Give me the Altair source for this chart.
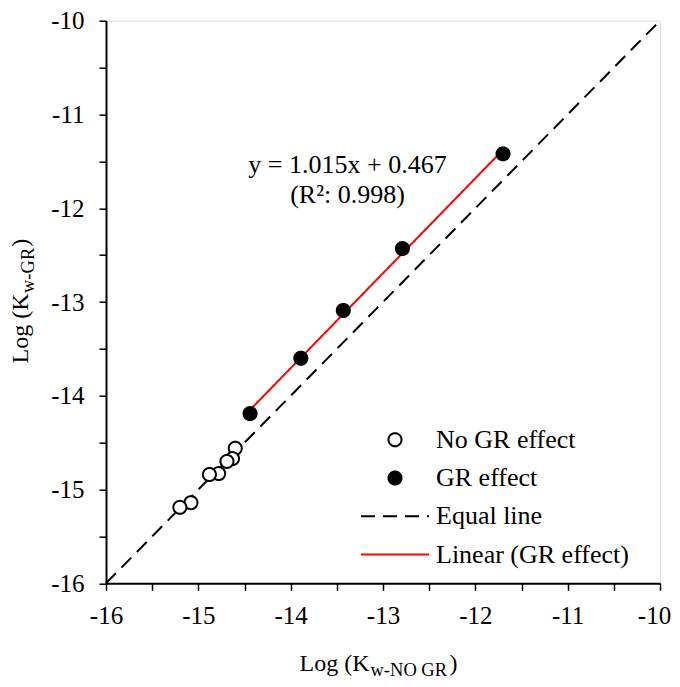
import altair as alt
import pandas as pd

# ---- data ----
x_domain = [-16, -10]
y_domain = [-16, -10]
tick_values = [-16, -15.5, -15, -14.5, -14, -13.5, -13, -12.5, -12, -11.5, -11, -10.5, -10]

no_gr_x = [-14.60, -14.63, -14.69, -14.78, -14.88, -15.08, -15.20]
no_gr_y = [-14.56, -14.67, -14.70, -14.83, -14.84, -15.14, -15.19]

gr_x = [-14.44, -13.89, -13.43, -12.79, -11.70]
gr_y = [-14.19, -13.60, -13.09, -12.43, -11.42]

series_names = ["No GR effect", "GR effect", "Equal line", "Linear (GR effect)"]

equation_lines = ["y = 1.015x + 0.467", "(R\u00b2: 0.998)"]
x_title_parts = ["Log (K", "w-NO GR", ")"]
y_title_parts = ["Log (K", "w-GR", ")"]

FONT = "Liberation Serif"

# ---- tables ----
pts_df = pd.DataFrame({
    "x": no_gr_x + gr_x,
    "y": no_gr_y + gr_y,
    "series": [series_names[0]] * len(no_gr_x) + [series_names[1]] * len(gr_x),
})
gr_df = pd.DataFrame({"x": gr_x, "y": gr_y})
equal_df = pd.DataFrame({"x": x_domain, "y": y_domain, "series": [series_names[2]] * 2})

# ---- scales / axes / legend ----
xs = alt.Scale(domain=x_domain, nice=False, zero=False)
ys = alt.Scale(domain=y_domain, nice=False, zero=False)

label_expr = "datum.value % 1 == 0 ? '' + datum.value : ''"
common_axis = dict(
    values=tick_values, labelExpr=label_expr, title=None, grid=False,
    domainColor="black", domainWidth=2, tickColor="black", tickWidth=1.5, tickSize=7,
    labelFont=FONT, labelFontSize=25, labelColor="black", labelFlush=False,
    labelOverlap=False,
)
xaxis = alt.Axis(
    labelBaseline="alphabetic", labelPadding=33,
    labelOffset={"condition": {"test": "datum.value == -10", "value": -6}, "value": 0},
    **common_axis,
)
yaxis = alt.Axis(labelBaseline="middle", labelPadding=15, **common_axis)

legend = alt.Legend(
    title=None, orient="none", legendX=254, legendY=409, padding=0,
    labelFont=FONT, labelFontSize=26, labelColor="black", labelOffset=6,
    labelLimit=400, symbolStrokeWidth=2, symbolOpacity=1, clipHeight=20,
    rowPadding=12.3,
)

shape_scale = alt.Scale(domain=series_names, range=["circle", "circle", "stroke", "stroke"])
fill_scale = alt.Scale(domain=series_names, range=["white", "black", "transparent", "transparent"])
stroke_scale = alt.Scale(domain=series_names, range=["black", "black", "black", "#ff0000"])
dash_scale = alt.Scale(domain=series_names, range=[[1, 0], [1, 0], [14, 8], [1, 0]])
size_scale = alt.Scale(type="ordinal", domain=series_names, range=[170, 170, 4624, 4624])

X = alt.X("x:Q", scale=xs, axis=xaxis)
Y = alt.Y("y:Q", scale=ys, axis=yaxis)

equal_line = alt.Chart(equal_df).mark_line(strokeWidth=2).encode(
    x=X, y=Y,
    stroke=alt.Stroke("series:N", scale=stroke_scale, legend=legend),
    strokeDash=alt.StrokeDash("series:N", scale=dash_scale, legend=legend),
)

fit_line = alt.Chart(gr_df).transform_regression("x", "y").transform_calculate(
    series="'" + series_names[3] + "'"
).mark_line(strokeWidth=2).encode(
    x=X, y=Y,
    stroke=alt.Stroke("series:N", scale=stroke_scale, legend=legend),
    strokeDash=alt.StrokeDash("series:N", scale=dash_scale, legend=legend),
)

points = alt.Chart(pts_df).mark_point(filled=True, opacity=1, strokeWidth=2).encode(
    x=X, y=Y,
    shape=alt.Shape("series:N", scale=shape_scale, legend=legend),
    fill=alt.Fill("series:N", scale=fill_scale, legend=legend),
    stroke=alt.Stroke("series:N", scale=stroke_scale, legend=legend),
    size=alt.Size("series:N", scale=size_scale, legend=legend),
    strokeDash=alt.StrokeDash("series:N", scale=dash_scale, legend=legend),
)

def text_layer(txt, x, y, size, align="center", angle=0):
    kw = dict(font=FONT, fontSize=size, color="black", align=align, baseline="alphabetic")
    if angle:
        kw["angle"] = angle
    return alt.Chart(pd.DataFrame({"t": [txt]})).mark_text(**kw).encode(
        x=alt.value(x), y=alt.value(y), text="t:N"
    )

eq1 = text_layer(equation_lines[0], 241.5, 152.6, 26)
eq2 = text_layer(equation_lines[1], 241.5, 182.6, 26)

xt1 = text_layer(x_title_parts[0], 263.5, 649.8, 24, align="right")
xt2 = text_layer(x_title_parts[1], 264.5, 655.2, 18.5, align="left")
xt3 = text_layer(x_title_parts[2], 343.5, 649.8, 24, align="left")

yt1 = text_layer(y_title_parts[0], -78, 272.8, 24, align="right", angle=270)
yt2 = text_layer(y_title_parts[1], -71.6, 272.3, 18.5, align="left", angle=270)
yt3 = text_layer(y_title_parts[2], -78, 226.0, 24, align="left", angle=270)

chart = alt.layer(
    equal_line, fit_line, points, eq1, eq2, xt1, xt2, xt3, yt1, yt2, yt3
).properties(
    width=554, height=562.6,
    autosize=alt.AutoSizeParams(type="none"),
    padding={"left": 98, "top": 12.7, "right": 12, "bottom": 95.7},
).configure_view(
    stroke="#8c8c8c", strokeWidth=1.5
).configure(background="white")

chart.save("out.html", embed_options={"renderer": "svg", "actions": False})
